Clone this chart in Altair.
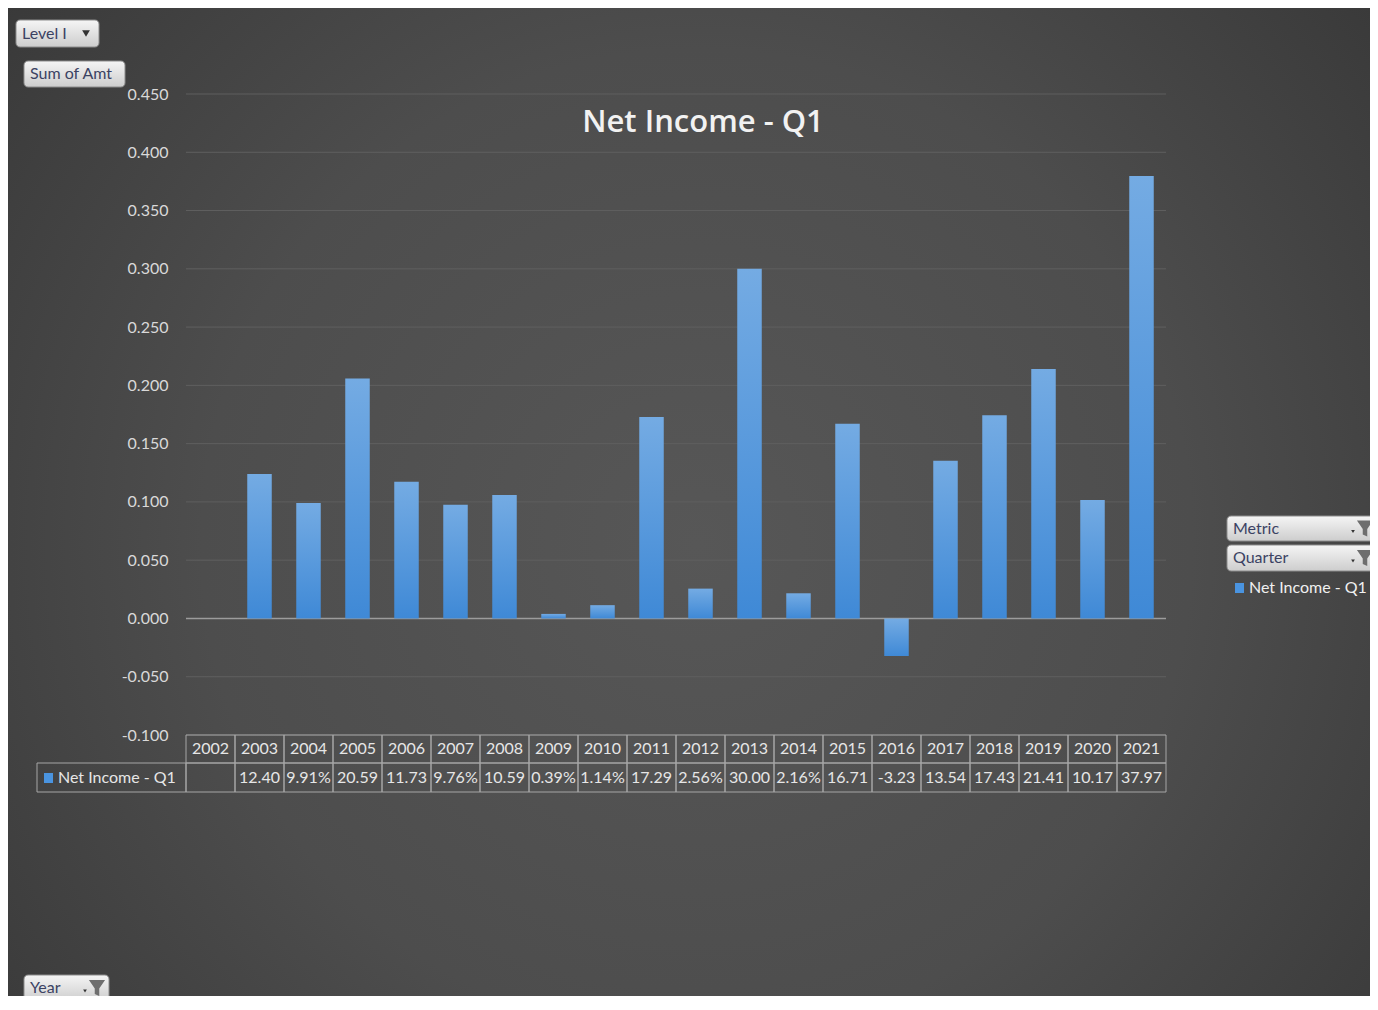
import altair as alt
import pandas as pd

# ---------------- data ----------------
years = ["2002", "2003", "2004", "2005", "2006", "2007", "2008", "2009", "2010", "2011",
         "2012", "2013", "2014", "2015", "2016", "2017", "2018", "2019", "2020", "2021"]
values = [None, 0.1240, 0.0991, 0.2059, 0.1173, 0.0976, 0.1059, 0.0039, 0.0114, 0.1729,
          0.0256, 0.3000, 0.0216, 0.1671, -0.0323, 0.1354, 0.1743, 0.2141, 0.1017, 0.3797]
table_labels = ["", "12.40", "9.91%", "20.59", "11.73", "9.76%", "10.59", "0.39%", "1.14%", "17.29",
                "2.56%", "30.00", "2.16%", "16.71", "-3.23", "13.54", "17.43", "21.41", "10.17", "37.97"]
y_ticks = [-0.100, -0.050, 0.000, 0.050, 0.100, 0.150, 0.200, 0.250, 0.300, 0.350, 0.400, 0.450]
series_name = "Net Income - Q1"
title_text = "Net Income - Q1"

df = pd.DataFrame({"year": years, "value": values, "label": table_labels})
ticks_df = pd.DataFrame({"t": y_ticks})
one = pd.DataFrame({"a": [0]})

W, H = 980, 641
FONT = "Lato"
BLUE = "#4a94e0"

xscale = alt.Scale(type="band", domain=years, paddingInner=0, paddingOuter=0)
yscale = alt.Scale(domain=[-0.1, 0.45], nice=False, zero=False)
X = alt.X("year:N", scale=xscale, axis=None)

# ---------------- background ----------------
bg = alt.Chart(one).mark_rect(
    fill=alt.RadialGradient(
        gradient="radial",
        stops=[alt.GradientStop(color="#575757", offset=0),
               alt.GradientStop(color="#4d4d4d", offset=0.45),
               alt.GradientStop(color="#393939", offset=0.8),
               alt.GradientStop(color="#2c2c2c", offset=1)],
        x1=0.5, y1=0.5, r1=0, x2=0.5, y2=0.5, r2=0.5)
).encode(x=alt.value(-178), x2=alt.value(1200), y=alt.value(-650), y2=alt.value(1550))

# ---------------- grid + y axis ----------------
grid = alt.Chart(ticks_df).mark_rule(color="#5f5f5f", strokeWidth=1).encode(
    y=alt.Y("t:Q", scale=yscale,
            axis=alt.Axis(values=y_ticks, grid=False, domain=False, ticks=False,
                          labelExpr="replace(format(datum.value, '.3f'), '\u2212', '-')",
                          labelPadding=18, labelFont=FONT, labelFontSize=16,
                          labelColor="#d9d9d9", zindex=1, title=None))
)

zero = alt.Chart(one).mark_rule(color="#9c9c9c", strokeWidth=1.5).encode(
    y=alt.datum(0, scale=yscale))

# ---------------- bars ----------------
bars = alt.Chart(df).mark_bar(
    width=alt.RelativeBandSize(0.5),
    color=alt.LinearGradient(
        gradient="linear",
        stops=[alt.GradientStop(color="#74abe3", offset=0),
               alt.GradientStop(color="#3f89d6", offset=1)],
        x1=0, x2=0, y1=0, y2=1)
).encode(
    x=X,
    y=alt.Y("value:Q", scale=yscale),
    y2=alt.datum(0),
)

# ---------------- data table ----------------
TBL = "#a6a6a6"
TXT = "#e6e6e6"
row1 = alt.Chart(df).mark_rect(fill="transparent", stroke=TBL, strokeWidth=1).encode(
    x=X, y=alt.value(641), y2=alt.value(669))
row2 = alt.Chart(df).mark_rect(fill="transparent", stroke=TBL, strokeWidth=1).encode(
    x=X, y=alt.value(669), y2=alt.value(698))
label_cell = alt.Chart(one).mark_rect(fill="transparent", stroke=TBL, strokeWidth=1).encode(
    x=alt.value(-149), x2=alt.value(0), y=alt.value(669), y2=alt.value(698))
year_txt = alt.Chart(df).mark_text(font=FONT, fontSize=16, color=TXT).encode(
    x=X, y=alt.value(655), text="year:N")
val_txt = alt.Chart(df).mark_text(font=FONT, fontSize=16, color=TXT).encode(
    x=X, y=alt.value(684), text="label:N")
tbl_sym = alt.Chart(one).mark_rect(color=BLUE).encode(
    x=alt.value(-142), x2=alt.value(-133), y=alt.value(679), y2=alt.value(689))
tbl_name = alt.Chart(one).mark_text(font=FONT, fontSize=16, color=TXT, align="left",
                                    baseline="middle", text=series_name).encode(
    x=alt.value(-128), y=alt.value(684))

# ---------------- title ----------------
title = alt.Chart(one).mark_text(font="Open Sans", fontSize=31, fontWeight=600, color="#f2f2f2",
                                 align="center", baseline="middle", text=title_text).encode(
    x=alt.value(517), y=alt.value(29))

# ---------------- right legend ----------------
leg_sym = alt.Chart(one).mark_rect(color=BLUE).encode(
    x=alt.value(1049), x2=alt.value(1058), y=alt.value(489), y2=alt.value(499))
leg_txt = alt.Chart(one).mark_text(font=FONT, fontSize=16, color="#f0f0f0", align="left",
                                   baseline="middle", text=series_name).encode(
    x=alt.value(1063), y=alt.value(494))

# ---------------- pivot field buttons ----------------
BTN_FILL = alt.LinearGradient(
    gradient="linear",
    stops=[alt.GradientStop(color="#f5f5f5", offset=0),
           alt.GradientStop(color="#cdcdcd", offset=1)],
    x1=0, x2=0, y1=0, y2=1)
FUNNEL = "M-1,-1L1,-1L0.28,0.05L0.28,1L-0.28,0.75L-0.28,0.05Z"


def button(x1, x2, y1, y2, label, icon):
    ym = (y1 + y2) / 2
    parts = [
        alt.Chart(one).mark_rect(fill=BTN_FILL, stroke="#8c8c8c", strokeWidth=1, cornerRadius=4).encode(
            x=alt.value(x1), x2=alt.value(x2), y=alt.value(y1), y2=alt.value(y2)),
        alt.Chart(one).mark_text(font=FONT, fontSize=16, color="#3b4263", align="left",
                                 baseline="middle", text=label).encode(
            x=alt.value(x1 + 6), y=alt.value(ym)),
    ]
    if icon == "arrow":
        parts.append(alt.Chart(one).mark_point(shape="triangle-down", filled=True, size=60,
                                               color="#333333", opacity=1).encode(
            x=alt.value(x2 - 13), y=alt.value(ym)))
    elif icon == "filter":
        parts.append(alt.Chart(one).mark_point(shape="triangle-down", filled=True, size=14,
                                               color="#333333", opacity=1).encode(
            x=alt.value(x2 - 24), y=alt.value(ym + 3)))
        parts.append(alt.Chart(one).mark_point(shape=FUNNEL, filled=True, size=260,
                                               color="#6e6e6e", opacity=1).encode(
            x=alt.value(x2 - 12), y=alt.value(ym)))
    return parts


buttons = []
buttons += button(-170, -87, -74, -47, "Level I", "arrow")
buttons += button(-162, -61, -33, -7, "Sum of Amt", "none")
buttons += button(1041, 1191, 422, 447, "Metric", "filter")
buttons += button(1041, 1191, 451, 477, "Quarter", "filter")
buttons += button(-162, -77, 881, 907, "Year", "filter")

chart = alt.layer(
    bg, grid, zero, bars, row1, row2, label_cell, year_txt, val_txt, tbl_sym, tbl_name,
    title, leg_sym, leg_txt, *buttons
).properties(
    width=W, height=H,
    autosize=alt.AutoSizeParams(type="none"),
    padding={"left": 178, "top": 86, "right": 204, "bottom": 261},
).configure_view(stroke=None).configure(background="#3a3a3a")

chart.save("out.html", embed_options={"renderer": "svg", "actions": False})
